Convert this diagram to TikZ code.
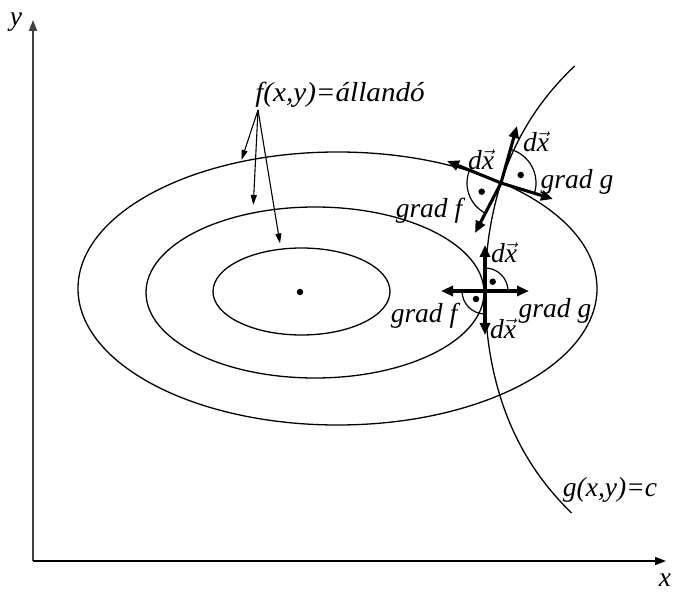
\documentclass[tikz,border=0pt]{standalone}
\usepackage{fontspec}
\setmainfont{Liberation Serif}
\usetikzlibrary{arrows.meta}
\newcommand{\dvx}{\textit{d}$\vec{\mbox{\textit{x}}}$}
\begin{document}
\begin{tikzpicture}[x=1pt,y=1pt,
  lbl/.style={inner sep=0pt,font=\fontsize{27.5}{30}\selectfont\itshape},
  curve/.style={line width=1.3pt},
  bigarrow/.style={line width=3.1pt,-{Triangle[length=12pt,width=10pt]}},
  pointer/.style={line width=1.1pt,-{Triangle[length=10pt,width=6pt]}},
  rangle/.style={line width=1.2pt},
  pt/.style={circle,fill,inner sep=0pt,minimum size=6.5pt}]
\useasboundingbox (0,0) rectangle (674,592);
% axes
\coordinate (O) at (33,31);
\coordinate (ytip) at (33,572);
\coordinate (xtip) at (666,31);
\draw[line width=2pt,draw=black!75,-{Triangle[length=11pt,width=8pt]}] (O) -- (ytip);
\draw[line width=1.5pt,-{Triangle[length=11pt,width=8pt]}] (O) -- (xtip);
\node[lbl] (ylab) at (16,570) {y};
\node[lbl] (xlab) at (665,12) {x};
% ellipses
\draw[curve] (301.5,300.5) ellipse[x radius=88.5,y radius=43.5];
\draw[curve] (315,299.5) ellipse[x radius=169,y radius=85.5];
\draw[curve] (337.5,303.5) ellipse[x radius=259.5,y radius=136.5];
\node[pt] (ctr) at (300,300) {};
% constraint curve
\draw[curve] plot[domain=-222:225,samples=90,variable=\t] ({485+30.6*(cosh(\t/110)-1)},{301+\t});
\node[lbl] (glab) at (610,102) {g(x,y)=c};
% level set label and pointers
\node[lbl] (flab) at (340,497) {\scalebox{1.06}[1]{f(x,y)=állandó}};
\coordinate (p0) at (258,482);
\coordinate (p1) at (241.5,432);
\coordinate (p2) at (253.3,387);
\coordinate (p3) at (280,348.5);
\draw[pointer] (p0) -- (p1);
\draw[pointer] (p0) -- (p2);
\draw[pointer] (p0) -- (p3);
% upper crossing
\coordinate (U) at (501,409);
\coordinate (Uup) at (517,466);
\coordinate (Udn) at (475,359);
\coordinate (Ul) at (447,431);
\coordinate (Ur) at (553,393);
\draw[rangle] (U) ++(-16:35) arc[start angle=-16,end angle=74,radius=35];
\draw[rangle] (U) ++(158:34) arc[start angle=158,end angle=242,radius=34];
\draw[bigarrow] (U) -- (Uup);
\draw[bigarrow] (U) -- (Udn);
\draw[bigarrow] (U) -- (Ul);
\draw[bigarrow] (U) -- (Ur);
\node[pt] (Ud1) at (520.7,417) {};
\node[pt] (Ud2) at (481.7,400.3) {};
\node[lbl] (Udx1) at (536,450) {\dvx};
\node[lbl] (Udx2) at (481,432) {\dvx};
\node[lbl] (Ugg) at (577,410) {grad g};
\node[lbl] (Ugf) at (429,381) {grad f};
% lower crossing
\coordinate (L) at (485,301);
\coordinate (Lup) at (485,347);
\coordinate (Ldn) at (485,257);
\coordinate (Ll) at (441,301);
\coordinate (Lr) at (529,301);
\draw[rangle] (L) ++(0:23) arc[start angle=0,end angle=90,radius=23];
\draw[rangle] (L) ++(180:23) arc[start angle=180,end angle=270,radius=23];
\draw[bigarrow] (L) -- (Lup);
\draw[bigarrow] (L) -- (Ldn);
\draw[bigarrow] (L) -- (Ll);
\draw[bigarrow] (L) -- (Lr);
\node[pt] (Ld1) at (492.7,310.3) {};
\node[pt] (Ld2) at (476,293) {};
\node[lbl] (Ldx1) at (504,339) {\dvx};
\node[lbl] (Ldx2) at (503,263) {\dvx};
\node[lbl] (Lgg) at (555,281) {grad g};
\node[lbl] (Lgf) at (424,276) {grad f};
\end{tikzpicture}
\end{document}
